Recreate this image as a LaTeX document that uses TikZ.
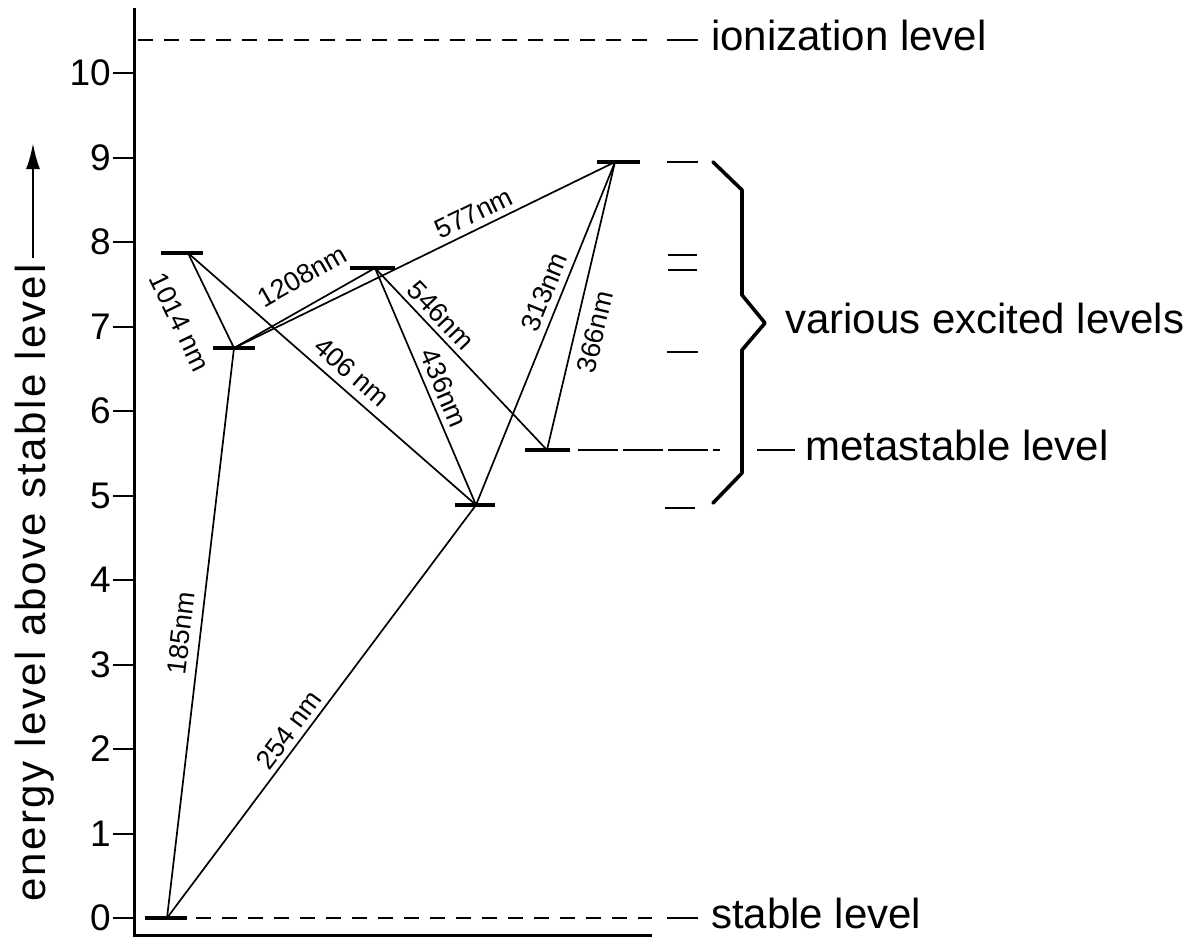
\documentclass[tikz,border=0pt]{standalone}
\usepackage{fontspec}
\setmainfont{Liberation Sans}
\usetikzlibrary{arrows.meta}
\begin{document}
\begin{tikzpicture}[x=1pt,y=-1pt,
  lvl/.style={fill=black, draw=none, inner sep=0pt, outer sep=0pt, minimum height=4.5pt, minimum width=#1},
  lvl/.default=42pt,
  axisline/.style={line width=3pt, line join=miter},
  tickmark/.style={line width=2pt},
  ticklab/.style={font=\fontsize{37}{40}\selectfont, inner sep=0pt, anchor=east},
  trans/.style={line width=1.7pt},
  tl/.style={font=\fontsize{27}{29}\selectfont, inner sep=0pt},
  big/.style={font=\fontsize{42}{45}\selectfont, inner sep=0pt, anchor=base west},
  dashline/.style={line width=1.6pt, dash pattern=on 15pt off 11pt},
  lead/.style={line width=2pt},
  marker/.style={line width=#1},
  marker/.default=2pt,
  bracestyle/.style={line width=3.6pt, line join=round, line cap=round}
]
\useasboundingbox (0,0) rectangle (1198,938);

% axes
\coordinate (axT) at (134,8);
\coordinate (axB) at (134,935);
\coordinate (axR) at (652,935);
\draw[axisline] (axT) -- (axB) -- (axR);

% ticks and numbers
\foreach \k in {0,...,10}{
  \pgfmathsetmacro\yy{918-84.5*\k}
  \coordinate (tk\k) at (113,\yy);
  \coordinate (te\k) at (134,\yy);
  \draw[tickmark] (tk\k) -- (te\k);
  \node[ticklab] (num\k) at (111,\yy) {\k};
}

% y-axis label with arrow
\node[font=\fontsize{42}{44}\selectfont\addfontfeature{LetterSpace=5.8}, inner sep=0pt, rotate=90, anchor=base west] (ylab) at (45,902) {energy level above stable level};
\coordinate (ya) at (33,258);
\coordinate (yb) at (33,143);
\draw[line width=2.6pt, -{Latex[length=26pt,width=14pt]}] (ya) -- (yb);

% level bars
\node[lvl] (B0) at (166,918) {};
\node[lvl] (B67) at (234,348) {};
\node[lvl] (B79) at (182,253) {};
\node[lvl=45pt] (B77) at (372,268) {};
\node[lvl=40pt] (B49) at (475,505) {};
\node[lvl=45pt] (Bm) at (547,450) {};
\node[lvl=43pt] (B89) at (618,162) {};

% connector end points on the bars
\coordinate (s0) at (167,918);
\coordinate (a67) at (234,348);
\coordinate (a79) at (188,253);
\coordinate (a77) at (375,268);
\coordinate (a49) at (476,505);
\coordinate (am) at (547,450);
\coordinate (a89) at (615,162);

% transitions
\draw[trans] (s0) -- (a67);
\draw[trans] (s0) -- (a49);
\draw[trans] (a79) -- (a67);
\draw[trans] (a79) -- (a49);
\draw[trans] (a67) -- (a77);
\draw[trans] (a67) -- (a89);
\draw[trans] (a77) -- (am);
\draw[trans] (a77) -- (a49);
\draw[trans] (a49) -- (a89);
\draw[trans] (am) -- (a89);

% transition labels
\node[tl, rotate=83.3] (l185) at (181,633) {185nm};
\node[tl, rotate=53.2] (l254) at (289,730) {254 nm};
\node[tl, rotate=-64.2] (l1014) at (180,322) {1014 nm};
\node[tl, rotate=-41.2] (l406) at (352,372) {406 nm};
\node[tl, rotate=29.6] (l1208) at (302,276) {1208nm};
\node[tl, rotate=25.9] (l577) at (474,213) {577nm};
\node[tl, rotate=-46.6] (l546) at (441,315) {546nm};
\node[tl, rotate=-66.9] (l436) at (444,388) {436nm};
\node[tl, rotate=67.9] (l313) at (544,292) {313nm};
\node[tl, rotate=76.7] (l366) at (595,332) {366nm};

% ionization level
\coordinate (ion1) at (138,40);
\coordinate (ion2) at (652,40);
\draw[dashline] (ion1) -- (ion2);
\coordinate (ion3) at (667,40);
\coordinate (ion4) at (698,40);
\draw[lead] (ion3) -- (ion4);
\node[big] (ion) at (711,50) {ionization level};

% stable level
\coordinate (st1) at (196,918);
\coordinate (st2) at (652,918);
\draw[dashline] (st1) -- (st2);
\coordinate (st3) at (667,918);
\coordinate (st4) at (698,918);
\draw[lead] (st3) -- (st4);
\node[big] (stab) at (711,928) {stable level};

% metastable level
\coordinate (me1) at (578,450);
\coordinate (me2) at (720,450);
\draw[line width=1.1pt, dash pattern=on 40pt off 5pt] (me1) -- (me2);
\coordinate (me3) at (757,450);
\coordinate (me4) at (795,450);
\draw[lead] (me3) -- (me4);
\node[big] (meta) at (805,460) {metastable level};

% right-hand level markers
\coordinate (m1a) at (667,162); \coordinate (m1b) at (698,162);
\draw[marker] (m1a) -- (m1b);
\coordinate (m2a) at (668,255); \coordinate (m2b) at (697,255);
\draw[marker=1.3pt] (m2a) -- (m2b);
\coordinate (m3a) at (668,270); \coordinate (m3b) at (697,270);
\draw[marker=1.3pt] (m3a) -- (m3b);
\coordinate (m4a) at (667,352); \coordinate (m4b) at (698,352);
\draw[marker] (m4a) -- (m4b);
\coordinate (m5a) at (665,508); \coordinate (m5b) at (695,508);
\draw[marker=1.5pt] (m5a) -- (m5b);

% brace
\draw[bracestyle] (713,162) -- (742,190) -- (742,295) -- (765,323) -- (742,350) -- (742,473) -- (713,503);
\node[big] (var) at (785,333) {various excited levels};

\end{tikzpicture}
\end{document}
